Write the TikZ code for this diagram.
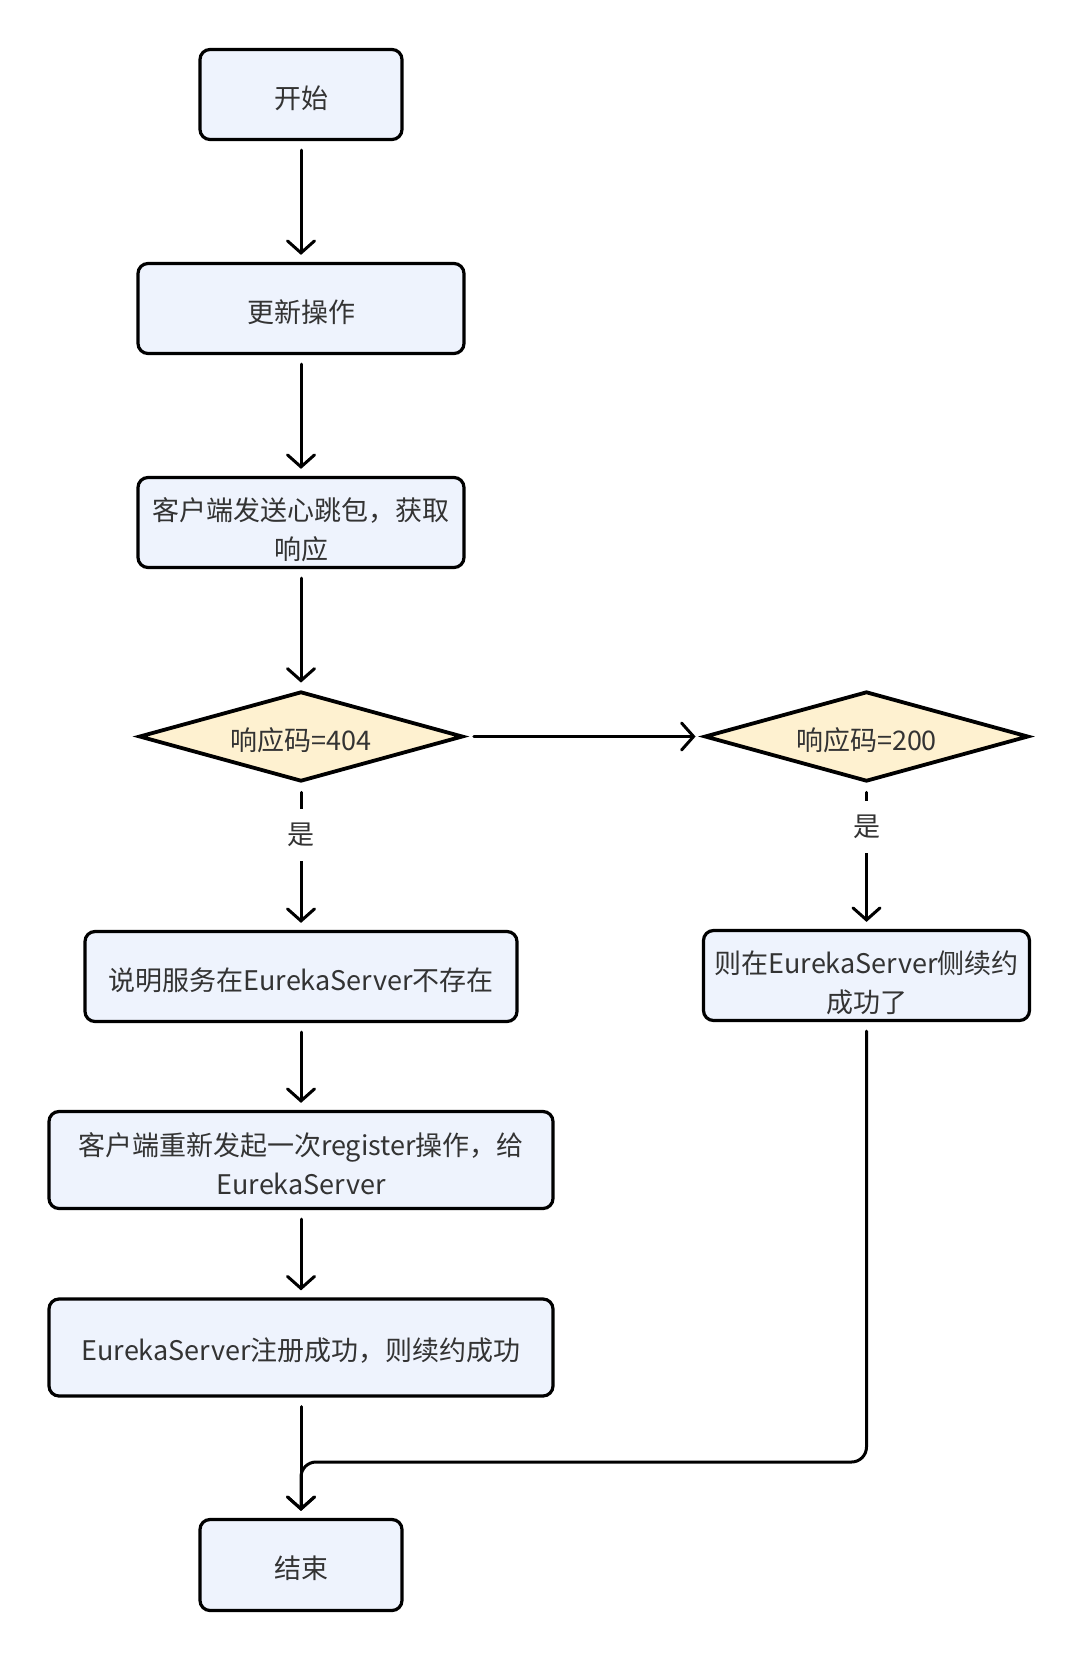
\documentclass[tikz,border=0pt]{standalone}
\usepackage{fontspec}
\setmainfont{Noto Sans CJK SC}
\usetikzlibrary{arrows.meta,shapes.geometric,calc}
\definecolor{boxfill}{HTML}{EEF3FD}
\definecolor{dfill}{HTML}{FEF1D0}
\definecolor{txt}{HTML}{333333}
\newcommand{\liftline}[1]{\rule{0pt}{#1}}
\begin{document}
\begin{tikzpicture}[x=0.5pt,y=-0.5pt,
  txtfont/.style={font=\fontsize{13.5pt}{19.5pt}\selectfont},
  lowered/.style={execute at begin node={\rule{0pt}{1.1em}}},
  proc/.style={draw=black, line width=1.6pt, rounded corners=5pt, fill=boxfill, text=txt, align=center, txtfont, inner sep=0pt},
  dec/.style={diamond, draw=black, line width=1.9pt, fill=dfill, text=txt, txtfont, inner sep=0pt, shape aspect=3.5, minimum width=162pt, minimum height=45pt, lowered},
  conn/.style={line width=1.5pt, line cap=round, -{Straight Barb[length=6pt,width=13.5pt,line cap=round]}, shorten <=4.5pt, shorten >=3.5pt},
  lbl/.style={fill=white, text=txt, txtfont, inner xsep=4pt, inner ysep=7pt}]
\useasboundingbox (0,0) rectangle (1080,1662);
\fill[white] (0,0) rectangle (1080,1662);

\node[proc, lowered, minimum width=101pt, minimum height=45pt] (start) at (301,94.5) {开始};
\node[proc, lowered, minimum width=163pt, minimum height=45pt] (upd) at (301,308.5) {更新操作};
\node[proc, minimum width=163pt, minimum height=45pt] (send) at (301,522.5) {\liftline{19.1pt}客户端发送心跳包，获取\\响应};
\node[dec] (d404) at (301,736.5) {响应码=404};
\node[dec] (d200) at (866.5,736.5) {响应码=200};
\node[proc, lowered, minimum width=216pt, minimum height=45pt] (notexist) at (301,976.5) {说明服务在EurekaServer不存在};
\node[proc, minimum width=163pt, minimum height=45pt] (renew) at (866.5,975.5) {\liftline{19.1pt}则在EurekaServer侧续约\\成功了};
\node[proc, minimum width=252pt, minimum height=48.5pt] (rereg) at (301,1160) {\liftline{15.5pt}客户端重新发起一次register操作，给\\EurekaServer};
\node[proc, lowered, minimum width=252pt, minimum height=48.5pt] (regok) at (301,1347.5) {EurekaServer注册成功，则续约成功};
\node[proc, lowered, minimum width=101pt, minimum height=45.5pt] (end) at (301,1565) {结束};

\draw[conn] (start) -- (upd);
\draw[conn] (upd) -- (send);
\draw[conn] (send) -- (d404);
\draw[conn] (d404) -- (d200);
\draw[conn] (d404) -- node[lbl, pos=0.35] (y1) {是} (notexist);
\draw[conn] (d200) -- node[lbl, pos=0.30] (y2) {是} (renew);
\draw[conn] (notexist) -- (rereg);
\draw[conn] (rereg) -- (regok);
\draw[conn] (regok) -- (end);
\coordinate (cr) at (866.5,1462);
\coordinate (cl) at (301,1462);
\draw[conn, rounded corners=7.5pt] (renew.south) -- (cr) -- (cl) -- (end.north);
\end{tikzpicture}
\end{document}
